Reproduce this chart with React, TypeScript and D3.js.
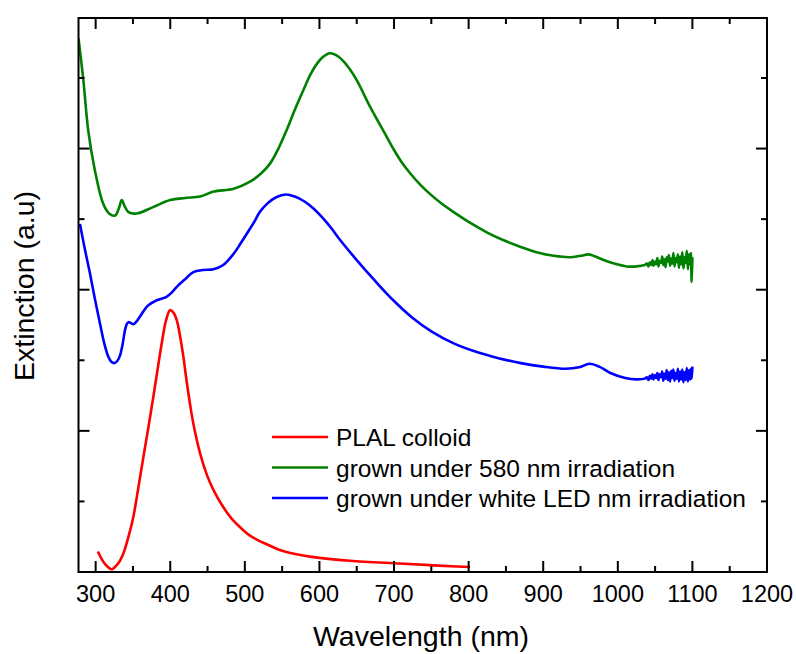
import React from "react";
import * as d3 from "d3";

// Extinction spectra: [wavelength nm, extinction a.u.]
const plalColloid: [number, number][] = [
  [303, 0.29], [312, 0.12], [321.5, 0.04], [330, 0.12], [337, 0.26], [344, 0.5],
  [350.5, 0.78], [357, 1.18], [364, 1.63], [371, 2.07], [377.3, 2.48], [383, 2.87],
  [388.6, 3.24], [394, 3.55], [399.7, 3.71], [404, 3.68], [408.7, 3.57], [413, 3.35],
  [417.6, 3.05], [422, 2.7], [426.5, 2.38], [431, 2.1], [440, 1.68], [449, 1.38],
  [458, 1.16], [471, 0.92], [482, 0.76], [494, 0.63], [505, 0.53], [516, 0.46],
  [530, 0.39], [545, 0.32], [561, 0.27], [580, 0.23], [600, 0.2], [641, 0.16],
  [708, 0.12], [760, 0.09], [802, 0.07],
];

const grown580: [number, number][] = [
  [277, 7.56], [283.5, 6.97], [290, 6.26], [299, 5.69], [310, 5.22], [318, 5.08],
  [326, 5.05], [331, 5.15], [335, 5.27], [339, 5.18], [344, 5.1], [355, 5.08],
  [377, 5.17], [400, 5.27], [420, 5.3], [440, 5.32], [458, 5.39], [485, 5.43],
  [507, 5.53], [522, 5.65], [534, 5.79], [545, 6.0], [556, 6.26], [567, 6.55],
  [578.5, 6.83], [588, 7.05], [596.5, 7.2], [605, 7.3], [614, 7.35], [623, 7.32],
  [632, 7.24], [641, 7.12], [650, 6.97], [668, 6.59], [690, 6.17], [700, 5.98],
  [710, 5.81], [721.6, 5.65], [735, 5.49], [750, 5.34], [765, 5.21], [780, 5.1],
  [800, 4.96], [825, 4.81], [847, 4.7], [869, 4.61], [891, 4.53], [914, 4.48],
  [936, 4.46], [950, 4.48], [961, 4.5], [970, 4.47], [981, 4.42], [995, 4.37],
  [1012, 4.33], [1025, 4.33], [1036, 4.35], [1039, 4.37], [1041, 4.33], [1043, 4.39],
  [1045, 4.35], [1046.5, 4.42], [1048, 4.34], [1050, 4.4], [1051.5, 4.36], [1053, 4.45],
  [1054.5, 4.33], [1056, 4.41], [1058, 4.38], [1059.5, 4.47], [1061, 4.35], [1062.5, 4.43],
  [1064, 4.32], [1065.5, 4.46], [1067, 4.4], [1068.5, 4.49], [1070, 4.34], [1071.5, 4.44],
  [1073, 4.37], [1074.5, 4.52], [1076, 4.33], [1077.5, 4.45], [1079, 4.39], [1080.5, 4.5],
  [1082, 4.31], [1083.5, 4.47], [1085, 4.36], [1086.5, 4.53], [1088, 4.3], [1089.5, 4.46],
  [1091, 4.38], [1092.5, 4.55], [1094, 4.29], [1095.5, 4.5], [1097, 4.36], [1098, 4.52],
  [1099, 4.11], [1100, 4.46],
];

const grownWhiteLed: [number, number][] = [
  [279, 4.93], [285, 4.6], [292.4, 4.23], [299, 3.87], [305.8, 3.52], [312, 3.22],
  [317, 3.05], [321, 2.98], [325, 2.96], [329, 2.99], [332.7, 3.07], [336, 3.22],
  [339.4, 3.43], [342, 3.52], [344, 3.54], [347, 3.53], [350.5, 3.51], [354, 3.54],
  [359.5, 3.62], [365, 3.71], [370.6, 3.78], [380, 3.84], [395, 3.9], [402, 3.96],
  [408.7, 4.04], [420, 4.15], [431, 4.25], [444, 4.28], [458, 4.29], [471, 4.35],
  [485, 4.51], [494, 4.65], [503, 4.8], [512, 4.95], [520, 5.1], [530, 5.22],
  [542, 5.31], [555, 5.35], [567, 5.32], [580, 5.25], [592, 5.15], [604, 5.02],
  [616, 4.87], [628, 4.7], [650, 4.42], [675, 4.12], [700, 3.84], [725, 3.6],
  [750, 3.41], [780, 3.24], [810, 3.12], [840, 3.03], [870, 2.96], [900, 2.91],
  [930, 2.88], [948, 2.9], [962, 2.95], [975, 2.91], [990, 2.82], [1010, 2.75],
  [1025, 2.73], [1036, 2.74], [1039, 2.76], [1041, 2.72], [1043, 2.78], [1045, 2.74],
  [1046.5, 2.8], [1048, 2.73], [1050, 2.79], [1051.5, 2.75], [1053, 2.82], [1054.5, 2.72],
  [1056, 2.8], [1058, 2.76], [1059.5, 2.84], [1061, 2.71], [1062.5, 2.81], [1064, 2.74],
  [1065.5, 2.86], [1067, 2.72], [1068.5, 2.83], [1070, 2.7], [1071.5, 2.85], [1073, 2.75],
  [1074.5, 2.87], [1076, 2.71], [1077.5, 2.82], [1079, 2.74], [1080.5, 2.88], [1082, 2.7],
  [1083.5, 2.84], [1085, 2.73], [1086.5, 2.87], [1088, 2.69], [1089.5, 2.83], [1091, 2.72],
  [1092.5, 2.89], [1094, 2.7], [1095.5, 2.86], [1097, 2.73], [1098, 2.88], [1099, 2.74],
  [1100, 2.91],
];

const seriesNames = [
  "PLAL colloid",
  "grown under 580 nm irradiation",
  "grown under white LED nm irradiation",
];
const seriesColors = ["#ff0000", "#008000", "#0000ff"];

const xMajorTicks = [300, 400, 500, 600, 700, 800, 900, 1000, 1100, 1200];
const xMinorTicks = [350, 450, 550, 650, 750, 850, 950, 1050, 1150];
const yMajorTicks = [0, 2, 4, 6];
const yMinorTicks = [1, 3, 5, 7];

const W = 796;
const H = 654;
const left = 78.5;
const right = 767;
const top = 18;
const bottom = 572;
const FONT = "'Liberation Sans', Arial, sans-serif";

export default function App() {
  const x = d3.scaleLinear().domain([277, 1200]).range([left, right]);
  const y = d3.scaleLinear().domain([0, 7.85]).range([bottom, top]);
  const line = d3
    .line<[number, number]>()
    .x((d) => x(d[0]))
    .y((d) => y(d[1]))
    .curve(d3.curveCatmullRom.alpha(0.5));

  const series = [plalColloid, grown580, grownWhiteLed];
  const major = 11;
  const minor = 6;

  return (
    <svg
      width={W}
      height={H}
      style={{ position: "absolute", left: 0, top: 0, background: "#fff" }}
      fontFamily={FONT}
    >
      <rect x={0} y={0} width={W} height={H} fill="#fff" />
      <defs>
        <clipPath id="plotArea">
          <rect x={left} y={top} width={right - left} height={bottom - top} />
        </clipPath>
      </defs>

      <g clipPath="url(#plotArea)">
        {series.map((s, i) => (
          <path
            key={i}
            d={line(s) || ""}
            fill="none"
            stroke={seriesColors[i]}
            strokeWidth={2.6}
            strokeLinejoin="round"
          />
        ))}
      </g>

      {/* frame */}
      <rect
        x={left}
        y={top}
        width={right - left}
        height={bottom - top}
        fill="none"
        stroke="#000"
        strokeWidth={2}
      />

      {/* x ticks, bottom and top, pointing inward */}
      {xMajorTicks.map((t) => (
        <g key={"xM" + t}>
          <line x1={x(t)} x2={x(t)} y1={bottom} y2={bottom - major} stroke="#000" strokeWidth={2} />
          <line x1={x(t)} x2={x(t)} y1={top} y2={top + major} stroke="#000" strokeWidth={2} />
          <text x={x(t)} y={602} fontSize={23.5} textAnchor="middle" fill="#000">
            {t}
          </text>
        </g>
      ))}
      {xMinorTicks.map((t) => (
        <g key={"xm" + t}>
          <line x1={x(t)} x2={x(t)} y1={bottom} y2={bottom - minor} stroke="#000" strokeWidth={2} />
          <line x1={x(t)} x2={x(t)} y1={top} y2={top + minor} stroke="#000" strokeWidth={2} />
        </g>
      ))}

      {/* y ticks, left and right, pointing inward */}
      {yMajorTicks.map((t) => (
        <g key={"yM" + t}>
          <line x1={left} x2={left + major} y1={y(t)} y2={y(t)} stroke="#000" strokeWidth={2} />
          <line x1={right} x2={right - major} y1={y(t)} y2={y(t)} stroke="#000" strokeWidth={2} />
        </g>
      ))}
      {yMinorTicks.map((t) => (
        <g key={"ym" + t}>
          <line x1={left} x2={left + minor} y1={y(t)} y2={y(t)} stroke="#000" strokeWidth={2} />
          <line x1={right} x2={right - minor} y1={y(t)} y2={y(t)} stroke="#000" strokeWidth={2} />
        </g>
      ))}

      {/* axis titles */}
      <text x={421} y={646} fontSize={28.5} textAnchor="middle" fill="#000">
        Wavelength (nm)
      </text>
      <text
        transform="translate(33.5,286) rotate(-90)"
        fontSize={28.5}
        textAnchor="middle"
        fill="#000"
      >
        Extinction (a.u)
      </text>

      {/* legend */}
      {seriesNames.map((name, i) => {
        const ly = 437 + i * 30.5;
        return (
          <g key={name}>
            <line x1={272} x2={328} y1={ly} y2={ly} stroke={seriesColors[i]} strokeWidth={2.4} />
            <text x={336} y={ly + 9} fontSize={24.5} fill="#000">
              {name}
            </text>
          </g>
        );
      })}
    </svg>
  );
}
